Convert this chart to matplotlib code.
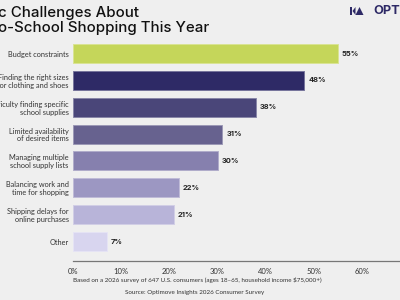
import matplotlib
matplotlib.use("Agg")
import matplotlib.pyplot as plt
from matplotlib.patches import Polygon

categories = [
    "Budget constraints",
    "Finding the right sizes\nfor clothing and shoes",
    "Difficulty finding specific\nschool supplies",
    "Limited availability\nof desired items",
    "Managing multiple\nschool supply lists",
    "Balancing work and\ntime for shopping",
    "Shipping delays for\nonline purchases",
    "Other",
]
values = [55, 48, 38, 31, 30, 22, 21, 7]
colors = ["#c5d65a", "#2e2a66", "#4a4679", "#67628f", "#8680ae", "#9c97c2", "#b8b4d9", "#d8d5ef"]
xticks = [0, 10, 20, 30, 40, 50, 60]
xticklabels = ["0%", "10%", "20%", "30%", "40%", "50%", "60%"]

title_l1 = "c Challenges About"
title_l2 = "o-School Shopping This Year"
foot1 = "Based on a 2026 survey of 647 U.S. consumers (ages 18\u201365, household income $75,000+)"
foot2 = "Source: Optimove Insights 2026 Consumer Survey"

FONT = ["Lato", "DejaVu Sans"]
TFONT = ["Inter", "DejaVu Sans"]
plt.rcParams["font.family"] = FONT
BG = "#efefef"
TXT = "#222222"

fig = plt.figure(figsize=(4, 3), dpi=100, facecolor=BG)
ax = fig.add_axes([73 / 400, 0.13, 337.4 / 400, 0.7364], facecolor=BG)

def lighten(c, f=0.35):
    import matplotlib.colors as mc
    r, g, b = mc.to_rgb(c)
    return (r + (1 - r) * f, g + (1 - g) * f, b + (1 - b) * f)

y = list(range(len(values)))
ax.barh(y, values, height=0.71, color=colors,
        edgecolor=[lighten(c) for c in colors], linewidth=0.7)
for yi, v in zip(y, values):
    ax.text(v + 0.8, yi, f"{v}%", va="center", ha="left", fontsize=5.4,
            fontweight="bold", color=TXT, family=TFONT)

ax.set_xlim(0, 70)
ax.set_ylim(7.726, -0.5)
ax.set_yticks(y)
ax.set_yticklabels(categories, fontsize=5.3, color="#333333", linespacing=1.15)
ax.set_xticks(xticks)
ax.set_xticklabels(xticklabels, fontsize=5.5, color="#333333")
ax.tick_params(axis="both", length=0, pad=3)
ax.tick_params(axis="x", pad=5)
for s in ["top", "right", "left"]:
    ax.spines[s].set_visible(False)
ax.spines["bottom"].set_color("#777777")
ax.spines["bottom"].set_linewidth(0.9)

fig.text(-0.004, 1 - 17 / 300, title_l1, fontsize=10.8, fontweight="medium",
         color="#111111", ha="left", va="baseline", family=TFONT)
fig.text(-0.004, 1 - 32 / 300, title_l2, fontsize=10.8, fontweight="medium",
         color="#111111", ha="left", va="baseline", family=TFONT)

fig.text(197 / 400, 1 - 280 / 300, foot1, fontsize=4.5, color="#333333",
         ha="center", va="center")
fig.text(195 / 400, 1 - 292.5 / 300, foot2, fontsize=4.5, color="#333333",
         ha="center", va="center")

# logo
navy = "#2e2a66"
def P(pts):
    return Polygon([(x / 400, 1 - yy / 300) for x, yy in pts], closed=True,
                   transform=fig.transFigure, color=navy, lw=0)
fig.patches.append(P([(349.5, 7), (351.5, 7), (351.5, 15), (349.5, 15)]))
fig.patches.append(P([(352.5, 11), (355.5, 7), (355.5, 15)]))
fig.patches.append(P([(355.5, 15), (359.5, 7), (363.5, 15)]))
fig.text(373.5 / 400, 1 - 11 / 300, "OPTIMOVE", fontsize=9.2, fontweight="bold",
         color=navy, ha="left", va="center", family=TFONT)

fig.savefig("out.png", dpi=100, facecolor=BG)
